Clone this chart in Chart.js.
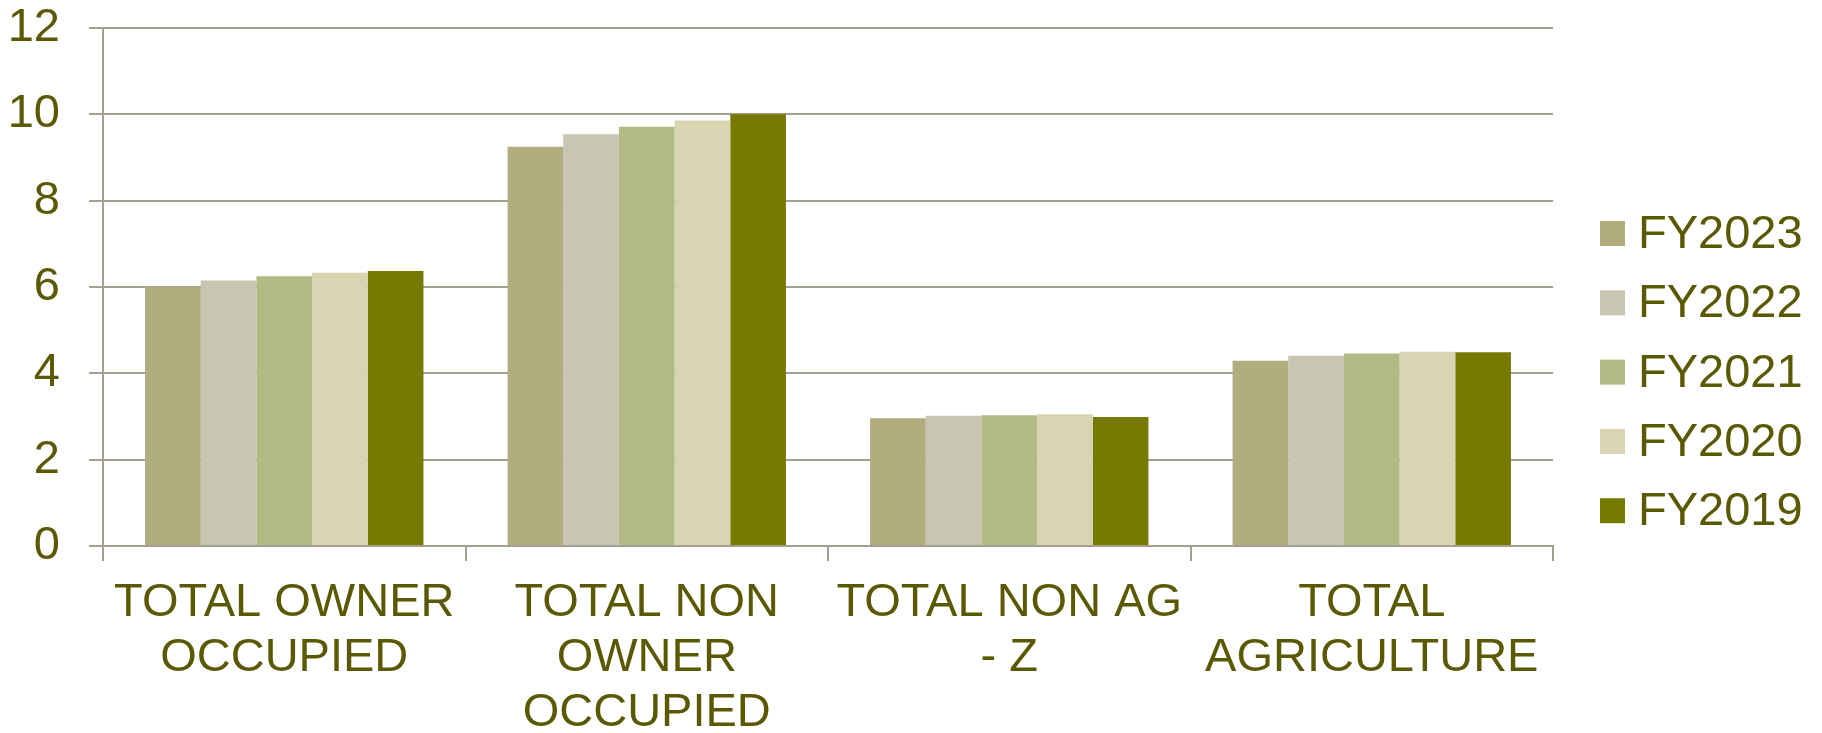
<!DOCTYPE html>
<html>
<head>
<meta charset="utf-8">
<script src="https://cdn.jsdelivr.net/npm/chart.js@4/dist/chart.umd.min.js"></script>
<style>
html,body{margin:0;padding:0;background:#fff;}
#wrap{width:1822px;height:733px;}
</style>
</head>
<body>
<div id="wrap"><canvas id="c" width="1822" height="733"></canvas></div>
<script>
const categories = [
  ["TOTAL OWNER", "OCCUPIED"],
  ["TOTAL NON", "OWNER", "OCCUPIED"],
  ["TOTAL NON AG", "- Z"],
  ["TOTAL", "AGRICULTURE"]
];
const seriesNames = ["FY2023", "FY2022", "FY2021", "FY2020", "FY2019"];
const fy2023 = [6.00, 9.25, 2.96, 4.29];
const fy2022 = [6.15, 9.54, 3.02, 4.41];
const fy2021 = [6.25, 9.71, 3.03, 4.46];
const fy2020 = [6.33, 9.86, 3.05, 4.50];
const fy2019 = [6.37, 10.00, 2.99, 4.49];
const yTicks = [0, 2, 4, 6, 8, 10, 12];

const colors = ["#B2AD7E", "#C8C6B0", "#B4BA84", "#D9D5B2", "#767A00"];
const seriesValues = [fy2023, fy2022, fy2021, fy2020, fy2019];
const textColor = "#5A5800";
const gridColor = "#A3A092";
const FONT = "'Liberation Sans', Arial, sans-serif";

const legendPlugin = {
  id: 'customLegend',
  afterDraw(chart) {
    const ctx = chart.ctx;
    ctx.save();
    ctx.font = "47px " + FONT;
    ctx.textBaseline = 'middle';
    ctx.textAlign = 'left';
    chart.data.datasets.forEach((ds, i) => {
      const top = 221 + i * 69.3;
      ctx.fillStyle = ds.backgroundColor;
      ctx.fillRect(1600, top, 25, 25);
      ctx.fillStyle = textColor;
      ctx.fillText(ds.label, 1638, top + 14);
    });
    ctx.restore();
  }
};

new Chart(document.getElementById('c'), {
  type: 'bar',
  data: {
    labels: categories,
    datasets: seriesNames.map((n, i) => ({
      label: n,
      data: seriesValues[i],
      backgroundColor: colors[i],
      borderWidth: 0,
      categoryPercentage: 0.768,
      barPercentage: 1.0
    }))
  },
  options: {
    responsive: false,
    devicePixelRatio: 1,
    animation: false,
    layout: { padding: { top: 28, right: 269, left: 0, bottom: 0 } },
    plugins: { legend: { display: false }, tooltip: { enabled: false } },
    scales: {
      x: {
        afterFit(s) { s.height = 733 - 546; },
        grid: { display: true, drawOnChartArea: false, drawTicks: true, tickLength: 15, color: gridColor, lineWidth: 2, offset: true },
        border: { display: true, color: gridColor, width: 2 },
        ticks: { color: textColor, font: { family: FONT, size: 47, lineHeight: 1.17 }, padding: 15, maxRotation: 0, autoSkip: false }
      },
      y: {
        min: 0, max: 12,
        afterFit(s) { s.width = 103; s.paddingTop = 0; s.paddingBottom = 0; },
        afterBuildTicks(s) { s.ticks = yTicks.map(v => ({ value: v })); },
        grid: { color: gridColor, lineWidth: 2, tickLength: 14 },
        border: { display: true, color: gridColor, width: 2 },
        ticks: { color: textColor, font: { family: FONT, size: 47 }, padding: 29 }
      }
    }
  },
  plugins: [legendPlugin]
});
</script>
</body>
</html>
